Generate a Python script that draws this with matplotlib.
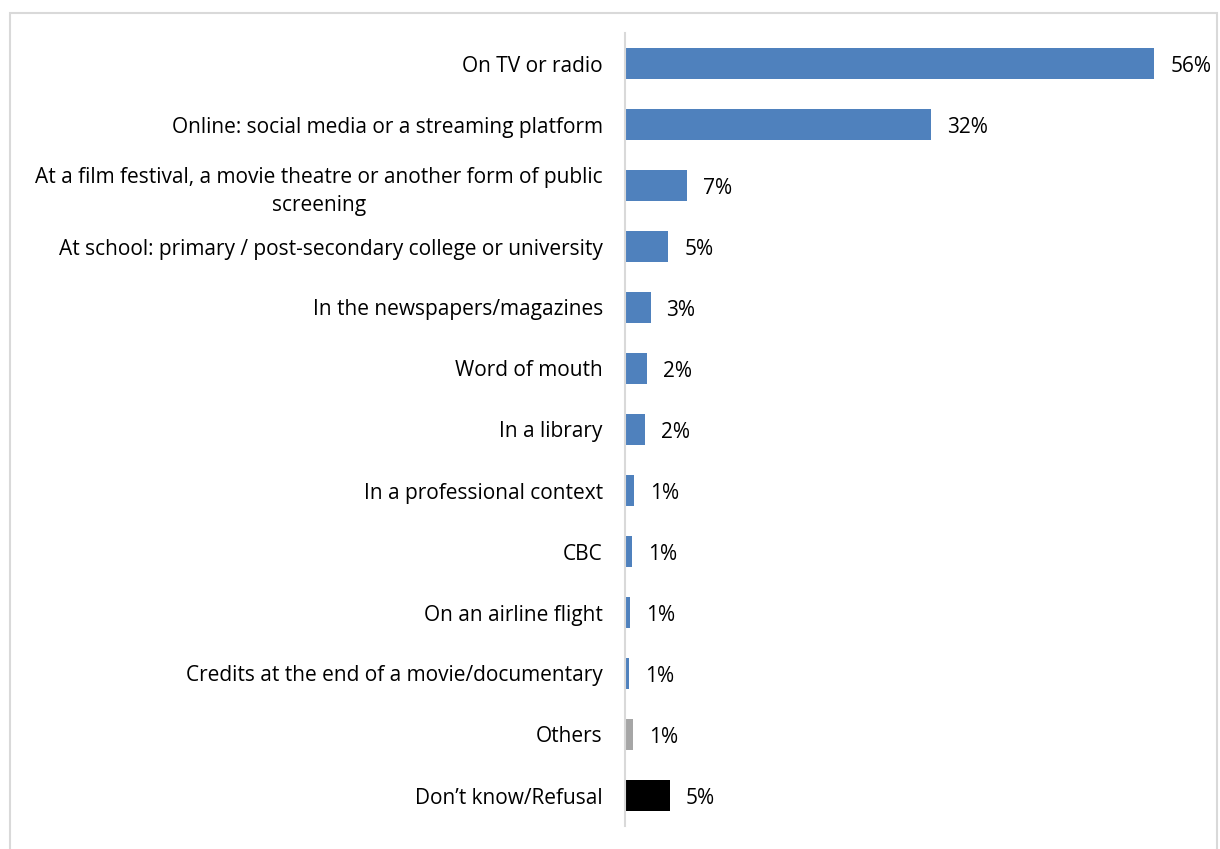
import matplotlib
matplotlib.use("Agg")
import matplotlib.pyplot as plt
from matplotlib.patches import Rectangle

categories = [
    "On TV or radio",
    "Online: social media or a streaming platform",
    "At a film festival, a movie theatre or another form of public\nscreening",
    "At school: primary / post-secondary college or university",
    "In the newspapers/magazines",
    "Word of mouth",
    "In a library",
    "In a professional context",
    "CBC",
    "On an airline flight",
    "Credits at the end of a movie/documentary",
    "Others",
    "Don\u2019t know/Refusal",
]
values = [56, 32.4, 6.6, 4.6, 2.7, 2.35, 2.1, 0.95, 0.75, 0.55, 0.45, 0.85, 4.75]
labels = ["56%", "32%", "7%", "5%", "3%", "2%", "2%", "1%", "1%", "1%", "1%", "1%", "5%"]
colors = ["#4f81bd"] * 11 + ["#a6a6a6", "#000000"]

plt.rcParams['font.family'] = ['Open Sans', 'DejaVu Sans']

W, H = 1220, 849
fig = plt.figure(figsize=(W / 100, H / 100), dpi=100)
fig.patches.append(Rectangle((10 / W, -0.05), 1207 / W, 1.05 - 13 / H, transform=fig.transFigure,
                             fill=False, edgecolor="#d9d9d9", linewidth=1.5))

ax_left, ax_right = 625 / W, 1200 / W
ax_top, ax_bot = 1 - 33 / H, 1 - 826 / H
ax = fig.add_axes([ax_left, ax_bot, ax_right - ax_left, ax_top - ax_bot])

y = list(range(len(categories)))
ax.barh(y, values, height=0.5, color=colors, edgecolor="none")
ax.set_ylim(len(categories) - 0.5, -0.5)
ax.set_xlim(0, 575 / 9.45)

for yi, v, lab in zip(y, values, labels):
    ax.annotate(lab, (v, yi), xytext=(16, -3), textcoords="offset pixels",
                va="center", ha="left", fontsize=15, color="#000000")

ax.set_yticks(y)
ax.set_yticklabels(categories, fontsize=15, multialignment="center", linespacing=1.45)
ax.tick_params(axis="y", length=0, pad=16)
ax.set_xticks([])
for s in ["top", "right", "bottom"]:
    ax.spines[s].set_visible(False)
ax.spines["left"].set_color("#d9d9d9")
ax.spines["left"].set_linewidth(1.5)

fig.savefig("out.png", dpi=100)
